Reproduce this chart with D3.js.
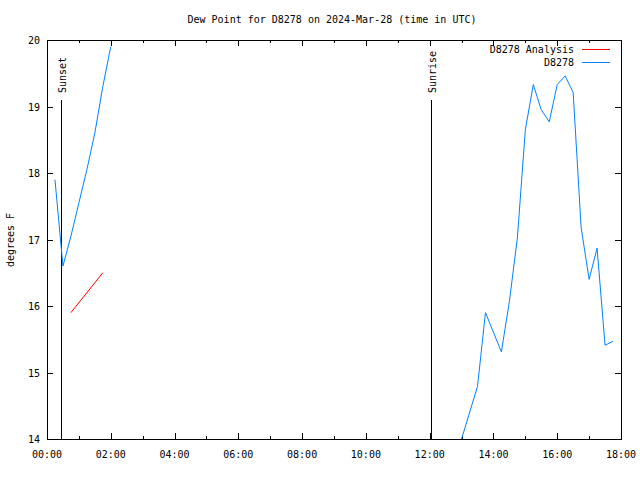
<!DOCTYPE html>
<html>
<head>
<meta charset="utf-8">
<script src="https://cdn.jsdelivr.net/npm/d3@7"></script>
<style>
  body { margin: 0; background: #fff; }
  svg text { font-family: "DejaVu Sans Mono", "Liberation Mono", monospace; font-size: 10px; fill: #000; }
</style>
</head>
<body>
<svg id="chart" width="640" height="480"></svg>
<script>
// ---- data ----
const titleText = "Dew Point for D8278 on 2024-Mar-28 (time in UTC)";
const yLabel = "degrees F";
const stationTimes = ["00:15","00:30","00:45","01:00","01:15","01:30","01:45","02:00",
  "13:00","13:30","13:45","14:15","14:30","14:45","15:00","15:15","15:30","15:45",
  "16:00","16:15","16:30","16:45","17:00","17:15","17:30","17:45"];
const stationValues = [17.9,16.6,17.05,17.55,18.05,18.6,19.3,19.9,
  14.0,14.79,15.9,15.31,16.07,17.02,18.65,19.33,18.95,18.77,
  19.33,19.46,19.21,17.18,16.4,16.87,15.41,15.47];
const analysisTimes = ["00:45","01:45"];
const analysisValues = [15.9,16.5];
const sunEvents = ["Sunset","Sunrise"];
const sunTimes = ["00:26","12:02"];
const xTickHours = [0,2,4,6,8,10,12,14,16,18];
const yTicks = [14,15,16,17,18,19,20];
const legendNames = ["D8278 Analysis","D8278"];
const colors = ["#ff0000","#0080ff"];

// ---- layout ----
const svg = d3.select("#chart");
const m = {left: 47, right: 621, top: 40, bottom: 439};
const toH = s => { const [h, mm] = s.split(":").map(Number); return h + mm/60; };
const x = d3.scaleLinear().domain([0, 18]).range([m.left, m.right]);
const y = d3.scaleLinear().domain([14, 20]).range([m.bottom, m.top]);

svg.append("defs").append("clipPath").attr("id","clip")
  .append("rect").attr("x", m.left).attr("y", m.top)
  .attr("width", m.right - m.left).attr("height", m.bottom - m.top);

// title
svg.append("text").attr("x", 332).attr("y", 23).attr("text-anchor","middle").text(titleText);
// y label
svg.append("text").attr("transform","translate(14,240) rotate(-90)")
  .attr("text-anchor","middle").text(yLabel);

// ticks (inward), bottom & top
const g = svg.append("g");
const minorHours = d3.range(1, 18, 2);
xTickHours.forEach(h => {
  const px = Math.round(x(h)) + 0.5;
  g.append("line").attr("x1",px).attr("x2",px).attr("y1",m.bottom).attr("y2",m.bottom-6).attr("stroke","#000");
  g.append("line").attr("x1",px).attr("x2",px).attr("y1",m.top).attr("y2",m.top+6).attr("stroke","#000");
  g.append("text").attr("x", x(h)).attr("y", m.bottom + 19).attr("text-anchor","middle")
    .text(d3.format("02d")(h) + ":00");
});
minorHours.forEach(h => {
  const px = Math.round(x(h)) + 0.5;
  g.append("line").attr("x1",px).attr("x2",px).attr("y1",m.bottom).attr("y2",m.bottom-3).attr("stroke","#000");
  g.append("line").attr("x1",px).attr("x2",px).attr("y1",m.top).attr("y2",m.top+3).attr("stroke","#000");
});
yTicks.forEach(v => {
  const py = Math.round(y(v)) + 0.5;
  g.append("line").attr("x1",m.left).attr("x2",m.left+6).attr("y1",py).attr("y2",py).attr("stroke","#000");
  g.append("line").attr("x1",m.right).attr("x2",m.right-6).attr("y1",py).attr("y2",py).attr("stroke","#000");
  g.append("text").attr("x", m.left - 7).attr("y", y(v) + 4).attr("text-anchor","end").text(v);
});

// sun lines
sunEvents.forEach((name, i) => {
  const px = Math.round(x(toH(sunTimes[i]))) + 0.5;
  svg.append("line").attr("x1",px).attr("x2",px).attr("y1",100).attr("y2",m.bottom)
    .attr("stroke","#000");
  svg.append("text").attr("transform",`translate(${px+4},93) rotate(-90)`)
    .attr("text-anchor","start").text(name);
});

// data lines
const line = d3.line().x(d => x(d[0])).y(d => y(d[1]));
const plot = svg.append("g").attr("clip-path","url(#clip)");
const stSeg1 = [], stSeg2 = [];
stationTimes.forEach((t, i) => {
  const h = toH(t);
  (h < 6 ? stSeg1 : stSeg2).push([h, stationValues[i]]);
});
const anPts = analysisTimes.map((t, i) => [toH(t), analysisValues[i]]);
plot.append("path").attr("d", line(anPts)).attr("fill","none").attr("stroke",colors[0]).attr("stroke-width",1);
[stSeg1, stSeg2].forEach(seg => {
  plot.append("path").attr("d", line(seg)).attr("fill","none").attr("stroke",colors[1]).attr("stroke-width",1);
});

// frame
svg.append("rect").attr("x", m.left + 0.5).attr("y", m.top + 0.5)
  .attr("width", m.right - m.left).attr("height", m.bottom - m.top)
  .attr("fill","none").attr("stroke","#000");

// legend
legendNames.forEach((name, i) => {
  const ly = 49 + i * 13;
  svg.append("text").attr("x", 574).attr("y", ly + 4).attr("text-anchor","end").text(name);
  svg.append("line").attr("x1", 582).attr("x2", 610).attr("y1", ly + 0.5).attr("y2", ly + 0.5)
    .attr("stroke", colors[i]);
});
</script>
</body>
</html>
